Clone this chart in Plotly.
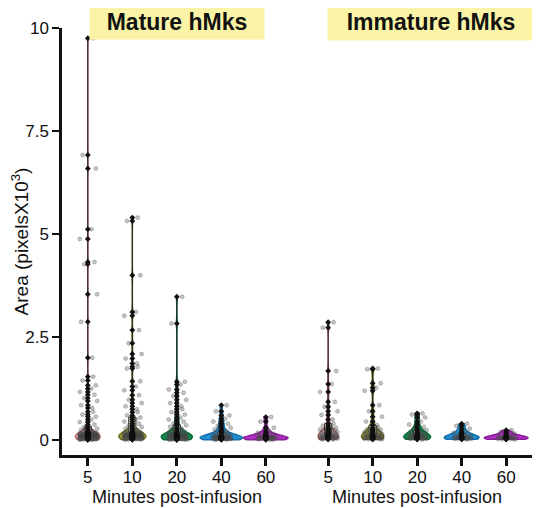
import plotly.graph_objects as go

# ---- data (Area, pixels x 10^3) ----
minutes = ["5", "10", "20", "40", "60"]
mature_positions = [0, 1, 2, 3, 4]
immature_positions = [5.4, 6.4, 7.4, 8.4, 9.4]

mature_5 = [9.75, 6.92, 6.59, 5.12, 4.88, 4.32, 4.27, 3.54, 2.87, 2.0, 1.54, 1.45, 1.33, 1.25,
            1.17, 1.1, 1.02, 0.95, 0.85, 0.78, 0.69, 0.62, 0.57, 0.5, 0.44, 0.38, 0.32, 0.28,
            0.25, 0.22, 0.2, 0.19, 0.18, 0.18, 0.17, 0.17, 0.16, 0.16, 0.15, 0.15, 0.15, 0.14,
            0.14, 0.14, 0.13, 0.13, 0.13, 0.12, 0.12, 0.12, 0.12, 0.11, 0.11, 0.11, 0.11, 0.10,
            0.10, 0.10, 0.10, 0.10, 0.09, 0.09, 0.09, 0.09, 0.09, 0.08, 0.08, 0.08, 0.08, 0.08,
            0.08, 0.07, 0.07, 0.07, 0.07, 0.07, 0.07, 0.06, 0.06, 0.06, 0.06, 0.06, 0.06, 0.05,
            0.05, 0.05, 0.05, 0.05, 0.05, 0.04, 0.04, 0.04, 0.04, 0.04, 0.03, 0.03, 0.03, 0.03,
            0.03, 0.02, 0.02, 0.02, 0.02, 0.01, 0.01]
mature_10 = [5.40, 5.32, 4.0, 3.11, 3.02, 2.67, 2.35, 2.09, 1.98, 1.86, 1.78, 1.74, 1.43, 1.3,
             1.21, 1.09, 0.98, 0.9, 0.82, 0.75, 0.68, 0.6, 0.55, 0.5, 0.45, 0.4, 0.36, 0.32,
             0.28, 0.25, 0.22, 0.2, 0.19, 0.19, 0.18, 0.18, 0.17, 0.16, 0.16, 0.15, 0.15, 0.14,
             0.14, 0.14, 0.13, 0.13, 0.12, 0.12, 0.12, 0.11, 0.11, 0.11, 0.10, 0.10, 0.10, 0.10,
             0.09, 0.09, 0.09, 0.09, 0.08, 0.08, 0.08, 0.08, 0.08, 0.07, 0.07, 0.07, 0.07, 0.06,
             0.06, 0.06, 0.06, 0.06, 0.05, 0.05, 0.05, 0.05, 0.04, 0.04, 0.04, 0.04, 0.03, 0.03,
             0.03, 0.02, 0.02, 0.02, 0.01]
mature_20 = [3.48, 2.83, 1.42, 1.35, 1.23, 1.15, 1.07, 0.98, 0.9, 0.82, 0.75, 0.68, 0.62, 0.55,
             0.5, 0.45, 0.4, 0.36, 0.32, 0.28, 0.25, 0.22, 0.2, 0.18, 0.17, 0.16, 0.15, 0.14,
             0.13, 0.13, 0.12, 0.12, 0.11, 0.11, 0.10, 0.10, 0.10, 0.09, 0.09, 0.09, 0.08, 0.08,
             0.08, 0.08, 0.07, 0.07, 0.07, 0.07, 0.06, 0.06, 0.06, 0.06, 0.05, 0.05, 0.05, 0.05,
             0.04, 0.04, 0.04, 0.04, 0.03, 0.03, 0.03, 0.03, 0.02, 0.02, 0.02, 0.01, 0.01]
mature_40 = [0.85, 0.7, 0.6, 0.52, 0.45, 0.4, 0.35, 0.3, 0.26, 0.22, 0.2, 0.18, 0.15, 0.13,
             0.12, 0.11, 0.10, 0.09, 0.09, 0.08, 0.08, 0.07, 0.07, 0.06, 0.06, 0.06, 0.05, 0.05,
             0.05, 0.05, 0.04, 0.04, 0.04, 0.04, 0.03, 0.03, 0.03, 0.03, 0.02, 0.02, 0.02, 0.01]
mature_60 = [0.56, 0.45, 0.3, 0.22, 0.18, 0.15, 0.12, 0.1, 0.09, 0.08, 0.07, 0.07, 0.06, 0.06,
             0.05, 0.05, 0.05, 0.04, 0.04, 0.04, 0.03, 0.03, 0.03, 0.02, 0.02, 0.01]

immature_5 = [2.86, 2.73, 1.68, 1.36, 1.17, 0.93, 0.81, 0.7, 0.61, 0.5, 0.4, 0.35, 0.3, 0.28,
              0.26, 0.24, 0.22, 0.2, 0.18, 0.17, 0.15, 0.14, 0.13, 0.12, 0.11, 0.1, 0.09, 0.09,
              0.08, 0.08, 0.07, 0.07, 0.06, 0.06, 0.05, 0.05, 0.04, 0.04, 0.03, 0.03, 0.02, 0.02]
immature_10 = [1.74, 1.72, 1.38, 1.27, 1.2, 0.85, 0.7, 0.57, 0.45, 0.36, 0.3, 0.27, 0.25, 0.22,
               0.2, 0.18, 0.17, 0.15, 0.14, 0.12, 0.11, 0.1, 0.1, 0.09, 0.08, 0.08, 0.07, 0.07,
               0.06, 0.06, 0.05, 0.05, 0.04, 0.04, 0.03, 0.03, 0.02, 0.02]
immature_20 = [0.65, 0.62, 0.55, 0.45, 0.38, 0.32, 0.28, 0.24, 0.2, 0.18, 0.17, 0.15, 0.14,
               0.12, 0.11, 0.1, 0.09, 0.08, 0.08, 0.07, 0.07, 0.06, 0.06, 0.05, 0.05, 0.04,
               0.04, 0.03, 0.03, 0.02, 0.02]
immature_40 = [0.40, 0.35, 0.28, 0.22, 0.18, 0.15, 0.12, 0.1, 0.09, 0.08, 0.07, 0.06, 0.06,
               0.05, 0.05, 0.04, 0.04, 0.03, 0.03, 0.02, 0.02]
immature_60 = [0.24, 0.2, 0.16, 0.13, 0.1, 0.09, 0.08, 0.07, 0.06, 0.06, 0.05, 0.05, 0.04,
               0.04, 0.03, 0.03, 0.02, 0.02]

mature_series = [mature_5, mature_10, mature_20, mature_40, mature_60]
immature_series = [immature_5, immature_10, immature_20, immature_40, immature_60]

colors = ["#f3c9c9", "#9c9c3c", "#11884a", "#1f8fd2", "#b22fc4"]
line_colors = ["#b06060", "#6c6c20", "#0b6a38", "#166fa8", "#8a1f9a"]
box_fills = ["#fbe8e6", "#f4f2d0", "#e8f4ea", "#e4f0f8", "#f4e0f6"]
mature_widths = [0.55, 0.6, 0.7, 0.95, 1.0]
immature_widths = [0.45, 0.5, 0.6, 0.78, 0.98]
mature_bw = [0.1, 0.1, 0.1, 0.07, 0.06]
immature_bw = [0.1, 0.1, 0.09, 0.07, 0.05]
# deterministic side-by-side spread pattern for the grey point copies (style only)
SPREAD = [0.12, -0.12, 0.18, 0.08, -0.18, 0.15, -0.08, 0.21, -0.15, 0.1]

FONT = "Liberation Sans, Arial, Helvetica, sans-serif"
# the page body adds an 8px offset; margins compensate for it
ML, MR, MT, MB = 54, 8, 20, 61
PLOT_W = 540 - ML - MR
PLOT_H = 508 - MT - MB

fig = go.Figure()


def add_group(pos, vals, color, lcolor, bfill, width, bw):
    fig.add_trace(go.Violin(
        y=vals, x0=pos, width=width, spanmode="hard", bandwidth=bw,
        fillcolor=color, line=dict(color=lcolor, width=1.5), opacity=1,
        points=False, box_visible=False, meanline_visible=False,
        showlegend=False, hoverinfo="skip"))
    # grey copies of the points, spread beside the centre line
    fig.add_trace(go.Scatter(
        x=[pos + SPREAD[i % len(SPREAD)] for i in range(len(vals))], y=vals,
        mode="markers",
        marker=dict(color="rgba(90,90,90,0.35)", size=4,
                    line=dict(color="rgba(60,60,60,0.45)", width=0.6)),
        showlegend=False, hoverinfo="y"))
    # range line (min to max) with small box
    fig.add_trace(go.Box(
        y=vals, x0=pos, width=0.16, boxpoints=False, whiskerwidth=0,
        fillcolor=bfill, line=dict(color="#222222", width=1), showlegend=False,
        hoverinfo="skip"))
    fig.add_trace(go.Scatter(
        x=[pos] * len(vals), y=vals, mode="markers",
        marker=dict(color="#111111", size=4.5, symbol="diamond"),
        showlegend=False, hoverinfo="y"))


for p, v, c, lc, bf, w, b in zip(mature_positions, mature_series, colors, line_colors,
                                 box_fills, mature_widths, mature_bw):
    add_group(p, v, c, lc, bf, w, b)
for p, v, c, lc, bf, w, b in zip(immature_positions, immature_series, colors, line_colors,
                                 box_fills, immature_widths, immature_bw):
    add_group(p, v, c, lc, bf, w, b)

fig.update_layout(
    width=540, height=508,
    margin=dict(l=ML, r=MR, t=MT, b=MB),
    paper_bgcolor="white", plot_bgcolor="white",
    font=dict(family=FONT, color="#111111"),
    violinmode="overlay", boxmode="overlay",
    xaxis=dict(range=[-0.58, 10.16], tickvals=mature_positions + immature_positions,
               ticktext=minutes + minutes, tickfont=dict(size=17),
               showline=True, linecolor="#111111", linewidth=2.5,
               ticks="outside", ticklen=8, tickwidth=2.5, tickcolor="#111111",
               ticklabelstandoff=-3,
               showgrid=False, zeroline=False, automargin=False),
    yaxis=dict(range=[-0.36, 10], tickvals=[0, 2.5, 5, 7.5, 10],
               ticktext=["0", "2.5", "5", "7.5", "10"], tickfont=dict(size=17),
               showline=True, linecolor="#111111", linewidth=2.5,
               ticks="outside", ticklen=7, tickwidth=2, tickcolor="#111111",
               showgrid=False, zeroline=False, automargin=False,
               title=dict(text="Area (pixelsX10<sup>3</sup>)", font=dict(size=19), standoff=9)),
)

for text, xc in [("Minutes post-infusion", 2), ("Minutes post-infusion", 7.4)]:
    fig.add_annotation(x=xc, y=0, xref="x", yref="paper", yshift=-42, yanchor="middle",
                       text=text, showarrow=False, font=dict(size=18, family=FONT))

for text, xc, w, h in [("<b>Mature hMks</b>", 177, 174, 34), ("<b>Immature hMks</b>", 431, 206, 37)]:
    fig.add_annotation(x=(xc - 62) / PLOT_W, y=1 + 6 / PLOT_H, xref="paper",
                       yref="paper", text=text, showarrow=False,
                       font=dict(size=23, family=FONT), width=w, height=h,
                       bgcolor="#fbf4a6", borderpad=0, yanchor="middle", xanchor="center")

fig.write_html("out.html")
